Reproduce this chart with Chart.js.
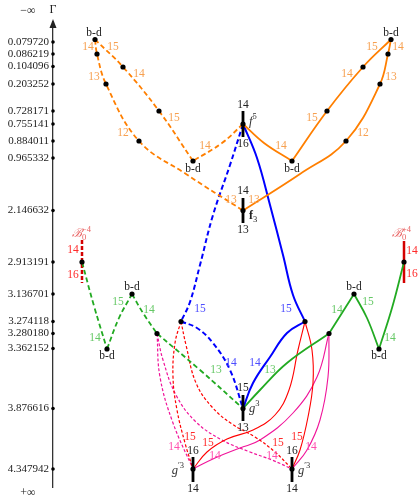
<!DOCTYPE html>
<html>
<head>
<meta charset="utf-8">
<script src="https://cdn.jsdelivr.net/npm/chart.js@4/dist/chart.umd.min.js"></script>
<style>
  html, body { margin: 0; padding: 0; background: #fff; }
  #caixa { width: 418px; height: 499px; }
</style>
</head>
<body>
<div id="caixa"><canvas id="grafico"></canvas></div>
<script>
// valores de Gamma no eixo e o nivel (profundidade) de cada um no diagrama
const gammaTicks = ['0.079720', '0.086219', '0.104096', '0.203252', '0.728171', '0.755141', '0.884011', '0.965332',
  '2.146632', '2.913191', '3.136701', '3.274118', '3.280180', '3.362152', '3.876616', '4.347942'];
const gammaLevels = [42, 54, 66.5, 84, 111, 124, 141, 158, 210.5, 262, 294, 321.5, 333.5, 348.5, 408.5, 469];

// nos (x horizontal do diagrama, y = nivel)
const nosBd = [[95, 39.5], [391, 39.5], [193, 161], [292, 161], [132, 294], [354, 294], [107, 349], [379, 349]];
const nosLaranja = [[97, 54], [123, 67], [106, 84], [159, 111], [139, 141], [388, 54], [363, 67], [380, 84], [327, 111], [346, 141]];
const nosPrincipais = [[243, 124], [243, 210.5], [243, 408.5], [193, 469], [292, 469], [82, 262], [404, 262],
  [181, 321.5], [305, 321.5], [157, 333.5], [329, 333.5]];

// ramos laranja
const laranjaTracejada = [
  [[243, 124], [222, 143], [193, 161]],
  [[193, 161], [159, 111], [123, 67], [95, 39.5]],
  [[95, 39.5], [97, 54], [106, 84], [139, 141], [186, 174], [243, 210.5]]
];
const laranjaCheia = [
  [[243, 124], [264, 143], [292, 161]],
  [[292, 161], [327, 111], [363, 67], [391, 39.5]],
  [[391, 39.5], [388, 54], [380, 84], [346, 141], [300, 174], [243, 210.5]]
];
// ramos azuis
const azulTracejada = [
  [[243, 124], [230, 165], [213, 215], [200, 265], [190, 302], [181, 321.5]],
  [[181, 321.5], [197, 328], [213, 343], [230, 370], [243, 408.5]]
];
const azulCheia = [
  [[243, 124], [257, 158], [270, 205], [283, 255], [293, 295], [305, 321.5]],
  [[305, 321.5], [287, 333], [270, 357], [253, 383], [243, 408.5]]
];
// ramos verdes
const verdeTracejada = [
  [[82, 262], [94, 306], [107, 349]],
  [[107, 349], [119, 318], [132, 294]],
  [[132, 294], [143, 313], [157, 333.5]],
  [[157, 333.5], [200, 370], [243, 408.5]]
];
const verdeCheia = [
  [[404, 262], [392, 308], [379, 349]],
  [[379, 349], [367, 318], [354, 294]],
  [[354, 294], [342, 313], [329, 333.5]],
  [[329, 333.5], [287, 363], [260, 390], [243, 408.5]]
];
// ramos vermelhos e magenta ate g'3
const vermelhoTracejada = [
  [[181, 321.5], [175, 343], [173, 377], [177, 410], [185, 443], [193, 469]],
  [[181, 321.5], [186, 345], [196, 383], [212, 407], [232, 424], [255, 437], [275, 452], [292, 469]]
];
const vermelhoCheia = [
  [[305, 321.5], [298, 350], [289, 390], [275, 415], [253, 430], [227, 439], [207, 452], [193, 469]],
  [[305, 321.5], [312, 350], [313, 383], [308, 417], [300, 450], [292, 469]]
];
const magentaTracejada = [
  [[157, 333.5], [160, 377], [173, 423], [193, 469]],
  [[157, 333.5], [163, 360], [176, 395], [196, 422], [222, 440], [250, 452], [272, 460], [292, 469]]
];
const magentaCheia = [
  [[329, 333.5], [317, 377], [293, 413], [260, 440], [240, 448], [215, 458], [193, 469]],
  [[329, 333.5], [328, 377], [320, 420], [307, 450], [292, 469]]
];
// tracos verticais nos pontos especiais
const tracosPretos = [
  [[243, 111], [243, 137]], [[243, 198], [243, 223]], [[243, 395], [243, 421]],
  [[193, 457], [193, 482]], [[292, 457], [292, 482]]
];
const tracoB0menos = [[82, 240], [82, 283]];
const tracoB0mais = [[404, 241], [404, 283]];

// rotulos numericos dos ramos
const rotulosLaranja = [
  [88, 47, '14'], [113, 47, '15'], [139, 74, '14'], [94, 77, '13'], [174, 118, '15'], [123, 133, '12'], [205, 146, '14'], [231, 200, '13'],
  [372, 47, '15'], [398, 47, '14'], [347, 74, '14'], [391, 77, '13'], [312, 118, '15'], [363, 133, '12'], [281, 146, '14'], [254, 200, '13']
];
const rotulosPretos = [
  [243, 105, '14'], [243, 144, '16'], [243, 191, '14'], [243, 230, '13'], [243, 388, '15'], [243, 428, '13'],
  [193, 451, '16'], [193, 489, '14'], [292, 451, '16'], [292, 489, '14']
];
const rotulosBd = [[94, 33], [193, 169], [292, 169], [391, 33], [132, 287], [107, 356], [354, 287], [379, 356]];
const rotulosAzuis = [[200, 309, '15'], [286, 309, '15'], [231, 363, '14'], [255, 363, '14']];
const rotulosVerdes = [
  [95, 338, '14'], [118, 302, '15'], [149, 310, '14'], [216, 370, '13'],
  [337, 310, '14'], [368, 302, '15'], [390, 338, '14'], [270, 370, '13']
];
const rotulosVermelhos = [[190, 437, '15'], [208, 443, '15'], [297, 437, '15'], [278, 443, '15'],
  [73, 250, '14'], [73, 275, '16'], [412, 251, '14'], [412, 274, '16']];
const rotulosMagenta = [[174, 447, '14'], [215, 456, '14'], [311, 447, '14'], [272, 456, '14']];

const SERIF = '"Liberation Serif", "DejaVu Serif", serif';
const COR = {
  laranja: '#ff7f00', laranjaTxt: '#f7a050',
  azul: '#0000ff', azulTxt: '#4d4dff',
  verde: '#22aa22', verdeTxt: '#66c866',
  vermelho: '#ff0000', vermelhoTxt: '#ff2a2a',
  magenta: '#f0149a', magentaTxt: '#ff4fae',
  b0: '#d40000', b0Txt: '#e86060'
};

const pts = arr => arr.map(([x, y]) => ({ x, y }));

function linha(arr, cor, largura, dash) {
  return {
    data: pts(arr), borderColor: cor, borderWidth: largura, borderDash: dash || [],
    tension: 0.4, pointRadius: 0, pointHoverRadius: 0, fill: false, order: 5
  };
}

const datasets = [];
// pontos pretos
datasets.push({
  data: pts(nosBd.concat(nosLaranja, nosPrincipais)), showLine: false,
  pointRadius: 2.6, pointBackgroundColor: '#000', pointBorderWidth: 0, order: 0
});
// marcas do eixo
datasets.push({
  data: gammaLevels.map(v => ({ x: 53, y: v })), showLine: false,
  pointRadius: 1.8, pointBackgroundColor: '#000', pointBorderWidth: 0, clip: false, order: 0
});
laranjaTracejada.forEach(c => datasets.push(linha(c, COR.laranja, 1.8, [5, 3])));
laranjaCheia.forEach(c => datasets.push(linha(c, COR.laranja, 1.8)));
azulTracejada.forEach(c => datasets.push(linha(c, COR.azul, 2, [5, 3])));
azulCheia.forEach(c => datasets.push(linha(c, COR.azul, 2)));
verdeTracejada.forEach(c => datasets.push(linha(c, COR.verde, 1.8, [5, 3])));
verdeCheia.forEach(c => datasets.push(linha(c, COR.verde, 1.8)));
vermelhoTracejada.forEach(c => datasets.push(linha(c, COR.vermelho, 1.2, [3, 2])));
vermelhoCheia.forEach(c => datasets.push(linha(c, COR.vermelho, 1.1)));
magentaTracejada.forEach(c => datasets.push(linha(c, COR.magenta, 1.2, [3, 2])));
magentaCheia.forEach(c => datasets.push(linha(c, COR.magenta, 1.1)));
tracosPretos.forEach(c => datasets.push(Object.assign(linha(c, '#000', 2.8), { tension: 0, order: 1 })));
datasets.push(Object.assign(linha(tracoB0menos, COR.b0, 2.5, [4, 2]), { tension: 0 }));
datasets.push(Object.assign(linha(tracoB0mais, COR.b0, 2.5), { tension: 0 }));

// texto com indices (sobrescrito / subscrito)
function textoRico(ctx, x, y, partes, cor, alinhar) {
  let total = 0;
  partes.forEach(p => { ctx.font = p.f; p.w = ctx.measureText(p.t).width; if (!p.empilha) total += p.w; });
  let cx = alinhar === 'right' ? x - total : x;
  ctx.fillStyle = cor;
  ctx.textAlign = 'left';
  ctx.textBaseline = 'alphabetic';
  partes.forEach(p => {
    ctx.font = p.f;
    ctx.fillText(p.t, cx, y + (p.dy || 0));
    if (!p.empilha) cx += p.w;
  });
}

const rotulosPlugin = {
  id: 'rotulos',
  afterDatasetsDraw(chart) {
    const { ctx, scales: { x, y }, chartArea } = chart;
    const X = v => x.getPixelForValue(v), Y = v => y.getPixelForValue(v);
    ctx.save();
    ctx.textAlign = 'center';
    ctx.textBaseline = 'middle';
    const escreve = (lista, cor, fonte) => {
      ctx.fillStyle = cor;
      ctx.font = fonte;
      lista.forEach(([a, b, t]) => ctx.fillText(t, X(a), Y(b)));
    };
    const f = '11.5px ' + SERIF;
    escreve(rotulosLaranja, COR.laranjaTxt, f);
    escreve(rotulosPretos, '#222', f);
    escreve(rotulosBd.map(([a, b]) => [a, b, 'b-d']), '#222', f);
    escreve(rotulosAzuis, COR.azulTxt, f);
    escreve(rotulosVerdes, COR.verdeTxt, f);
    escreve(rotulosVermelhos, COR.vermelhoTxt, f);
    escreve(rotulosMagenta, COR.magentaTxt, f);

    const it = 'italic 12.5px ' + SERIF, pq = '8.5px ' + SERIF;
    textoRico(ctx, X(249), Y(125), [{ t: 'f', f: it }, { t: '5', f: pq, dy: -6 }], '#333');
    textoRico(ctx, X(249), Y(219), [{ t: 'f', f: 'bold 12px ' + SERIF }, { t: '3', f: pq, dy: 3 }], '#222');
    textoRico(ctx, X(249), Y(412), [{ t: 'g', f: it }, { t: '3', f: pq, dy: -6 }], '#333');
    textoRico(ctx, X(184), Y(474), [{ t: 'g', f: it }, { t: '′3', f: pq, dy: -6 }], '#333', 'right');
    textoRico(ctx, X(298), Y(474), [{ t: 'g', f: it }, { t: '′3', f: pq, dy: -6 }], '#333');
    const sb = 'italic 12px ' + SERIF;
    textoRico(ctx, X(72), Y(237), [{ t: 'ℬ', f: sb }, { t: '0', f: pq, dy: 3, empilha: true }, { t: '−4', f: pq, dy: -5 }], COR.b0Txt);
    textoRico(ctx, X(392), Y(237), [{ t: 'ℬ', f: sb }, { t: '0', f: pq, dy: 3, empilha: true }, { t: '+4', f: pq, dy: -5 }], COR.b0Txt);

    // seta do eixo e extremos
    const ax = chartArea.left;
    ctx.fillStyle = '#222';
    ctx.beginPath();
    ctx.moveTo(ax, chartArea.top - 3);
    ctx.lineTo(ax - 3.5, chartArea.top + 6);
    ctx.lineTo(ax + 3.5, chartArea.top + 6);
    ctx.closePath();
    ctx.fill();
    ctx.font = '12px ' + SERIF;
    ctx.textAlign = 'center';
    ctx.textBaseline = 'middle';
    ctx.fillText('Γ', ax, chartArea.top - 12);
    ctx.fillText('−∞', 28, chartArea.top - 11);
    ctx.fillText('+∞', 28, chartArea.bottom + 6);
    ctx.restore();
  }
};

new Chart(document.getElementById('grafico'), {
  type: 'line',
  data: { datasets },
  options: {
    responsive: true,
    maintainAspectRatio: false,
    animation: false,
    events: [],
    layout: { padding: { left: 0, right: 5, top: 22, bottom: 12 } },
    plugins: { legend: { display: false }, tooltip: { enabled: false } },
    scales: {
      x: { type: 'linear', min: 53, max: 413, display: false },
      y: {
        type: 'linear', reverse: true, min: 22, max: 487,
        afterBuildTicks: s => { s.ticks = gammaLevels.map(v => ({ value: v })); },
        afterFit: s => { s.width = 53; },
        ticks: {
          autoSkip: false, padding: 4, color: '#222',
          font: { family: SERIF, size: 11 },
          callback: v => gammaTicks[gammaLevels.indexOf(v)]
        },
        grid: { drawOnChartArea: false, drawTicks: false },
        border: { display: true, color: '#333', width: 1.3 }
      }
    }
  },
  plugins: [rotulosPlugin]
});
</script>
</body>
</html>
